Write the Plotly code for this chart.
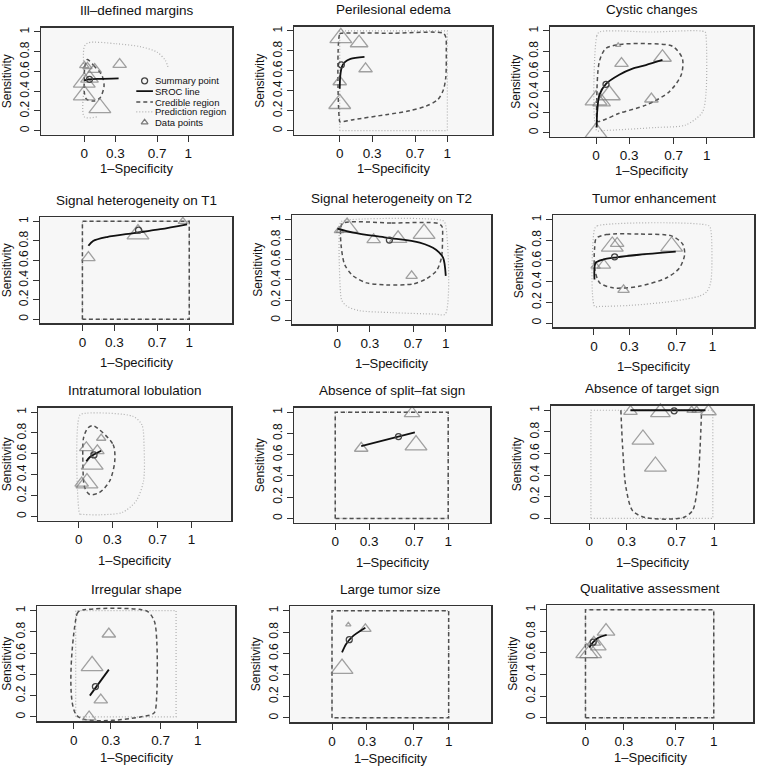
import plotly.graph_objects as go

# ---------------- DATA ----------------
titles = ["Ill–defined margins", "Perilesional edema", "Cystic changes",
          "Signal heterogeneity on T1", "Signal heterogeneity on T2", "Tumor enhancement",
          "Intratumoral lobulation", "Absence of split–fat sign", "Absence of target sign",
          "Irregular shape", "Large tumor size", "Qualitative assessment"]

x_tick_vals = [0, 0.3, 0.7, 1]
x_tick_text = ["0", "0.3", "0.7", "1"]
y_tick_vals = [0, 0.2, 0.4, 0.6, 0.8, 1]
y_tick_text = ["0", "0.2", "0.4", "0.6", "0.8", "1"]

# study data points (1-specificity, sensitivity, relative weight)
pts_x = [
    [0.0, 0.03, 0.10, 0.34, 0.0, 0.05, 0.0, 0.15],
    [0.01, 0.18, 0.24, 0.0, 0.0],
    [0.2, 0.23, 0.6, 0.5, 0.0, 0.12, 0.05, 0.0],
    [0.056, 0.52, 0.94],
    [0.09, 0.015, 0.335, 0.56, 0.8, 0.685],
    [0.155, 0.196, 0.655, 0.084, 0.014, 0.25],
    [0.2, 0.068, 0.166, 0.12, 0.027, 0.074],
    [0.23, 0.68, 0.715],
    [0.33, 0.57, 0.82, 0.86, 0.955, 0.43, 0.53],
    [0.283, 0.148, 0.218, 0.124],
    [0.14, 0.286, 0.086],
    [0.16, 0.065, 0.1, 0.01, 0.04],
]
pts_y = [
    [0.66, 0.65, 0.62, 0.67, 0.49, 0.53, 0.36, 0.23],
    [0.93, 0.88, 0.62, 0.49, 0.27],
    [0.86, 0.68, 0.74, 0.33, 0.32, 0.37, 0.30, 0.0],
    [0.63, 0.87, 1.0],
    [0.92, 0.89, 0.80, 0.81, 0.86, 0.44],
    [0.74, 0.77, 0.74, 0.56, 0.55, 0.32],
    [0.75, 0.66, 0.63, 0.50, 0.32, 0.32],
    [0.66, 0.99, 0.69],
    [0.99, 0.98, 1.0, 1.0, 0.99, 0.73, 0.48],
    [0.78, 0.48, 0.16, 0.0],
    [0.87, 0.83, 0.46],
    [0.80, 0.70, 0.66, 0.60, 0.60],
]
pts_w = [
    [2, 2, 3, 3, 5, 4, 5, 5],
    [5, 4, 3, 3, 5],
    [1, 3, 4, 3, 5, 5, 4, 5],
    [3, 5, 2],
    [5, 2, 3, 4, 5, 2.5],
    [5, 3, 5, 3, 2, 2.5],
    [2, 3, 3, 5, 3, 5],
    [3, 3.5, 5],
    [3, 4.5, 2, 2, 3.5, 5, 5],
    [3, 5, 3, 3],
    [1, 2.5, 5],
    [4, 3, 3.5, 5, 5],
]

# summary points
summ_x = [0.05, 0.015, 0.09, 0.525, 0.48, 0.175, 0.136, 0.56, 0.68, 0.175, 0.148, 0.06]
summ_y = [0.52, 0.66, 0.475, 0.91, 0.795, 0.64, 0.59, 0.77, 0.995, 0.285, 0.73, 0.70]

# SROC lines
sroc_x = [
    [0.0, 0.05, 0.15, 0.33],
    [0.0, 0.005, 0.02, 0.05, 0.1, 0.23],
    [0.006, 0.01, 0.03, 0.09, 0.21, 0.33, 0.45, 0.6],
    [0.056, 0.10, 0.23, 0.48, 0.73, 0.98],
    [0.0, 0.145, 0.45, 0.76, 0.91, 0.975, 1.0],
    [0.005, 0.014, 0.076, 0.19, 0.38, 0.69],
    [0.068, 0.1, 0.2],
    [0.23, 0.705],
    [0.33, 0.93],
    [0.13, 0.283],
    [0.086, 0.12, 0.177, 0.286],
    [0.03, 0.06, 0.1, 0.165],
]
sroc_y = [
    [0.51, 0.52, 0.525, 0.53],
    [0.42, 0.55, 0.64, 0.69, 0.72, 0.74],
    [0.05, 0.2, 0.37, 0.48, 0.57, 0.63, 0.665, 0.715],
    [0.75, 0.80, 0.84, 0.88, 0.92, 0.97],
    [0.91, 0.87, 0.82, 0.77, 0.70, 0.62, 0.44],
    [0.42, 0.58, 0.613, 0.635, 0.66, 0.69],
    [0.53, 0.57, 0.63],
    [0.68, 0.81],
    [1.0, 1.0],
    [0.2, 0.445],
    [0.61, 0.686, 0.76, 0.84],
    [0.65, 0.70, 0.74, 0.767],
]

# credible regions
cred_x = [
    [0.03, 0.09, 0.17, 0.19, 0.15, 0.09, 0.02, 0.0, 0.0, 0.005, 0.03],
    [0.0, 0.0, 0.02, 0.5, 0.96, 0.985, 0.99, 0.985, 0.96, 0.91, 0.8, 0.65, 0.43, 0.124, 0.006, 0.0],
    [0.015, 0.006, 0.03, 0.09, 0.24, 0.48, 0.69, 0.78, 0.77, 0.66, 0.45, 0.21, 0.06, 0.015],
    [0, 0, 1, 1, 0],
    [0.046, 0.5, 0.93, 0.965, 0.97, 0.96, 0.914, 0.82, 0.70, 0.45, 0.27, 0.145, 0.068, 0.037, 0.03, 0.046],
    [0.02, 0.104, 0.38, 0.66, 0.75, 0.765, 0.72, 0.61, 0.38, 0.16, 0.048, 0.006, 0.006, 0.02],
    [0.128, 0.305, 0.32, 0.275, 0.186, 0.098, 0.053, 0.038, 0.044, 0.083, 0.128],
    [0, 0, 1, 1, 0],
    [0.253, 0.267, 0.293, 0.347, 0.45, 0.75, 0.827, 0.867, 0.888, 0.9],
    [0.027, 0.027, 0.05, 0.59, 0.65, 0.67, 0.67, 0.65, 0.59, 0.027],
    [0, 0, 1, 1, 0],
    [0, 0, 1, 1, 0],
]
cred_y = [
    [0.72, 0.66, 0.56, 0.45, 0.33, 0.30, 0.32, 0.39, 0.5, 0.65, 0.72],
    [0.09, 0.97, 0.977, 0.977, 0.977, 0.94, 0.8, 0.53, 0.40, 0.31, 0.245, 0.2, 0.16, 0.11, 0.087, 0.09],
    [0.11, 0.3, 0.70, 0.83, 0.87, 0.875, 0.85, 0.73, 0.57, 0.40, 0.27, 0.19, 0.12, 0.11],
    [0, 1, 1, 0, 0],
    [0.96, 0.965, 0.96, 0.93, 0.8, 0.62, 0.49, 0.41, 0.36, 0.35, 0.37, 0.44, 0.55, 0.72, 0.885, 0.96],
    [0.82, 0.855, 0.86, 0.84, 0.76, 0.66, 0.53, 0.435, 0.355, 0.34, 0.39, 0.53, 0.725, 0.82],
    [0.87, 0.69, 0.53, 0.34, 0.23, 0.21, 0.28, 0.5, 0.755, 0.85, 0.87],
    [0, 1, 1, 0, 0],
    [1.0, 0.66, 0.29, 0.07, 0.006, 0.006, 0.07, 0.29, 0.66, 1.0],
    [0.01, 0.97, 1.0, 0.995, 0.9, 0.7, 0.23, 0.04, 0.01, 0.01],
    [0, 1, 1, 0, 0],
    [0, 1, 1, 0, 0],
]

# prediction regions
pred_x = [
    [0.12, 0.0, 0.0, 0.0, 0.04, 0.31, 0.54, 0.7, 0.78, 0.81],
    [0, 0, 1, 1, 0],
    [0.006, 0.006, 0.03, 0.5, 0.985, 0.994, 0.994, 0.96, 0.81, 0.54, 0.06, 0.006],
    [0, 0, 1, 1, 0],
    [0.03, 0.06, 0.97, 0.995, 0.995, 0.9, 0.5, 0.2, 0.083, 0.04, 0.028, 0.03],
    [0.006, 0.03, 0.97, 0.986, 0.986, 0.95, 0.888, 0.664, 0.3, 0.05, 0.006, 0.006],
    [0.02, 0.01, 0.01, 0.07, 0.48, 0.56, 0.58, 0.575, 0.51, 0.39, 0.19, 0.02],
    [0, 0, 1, 1, 0],
    [0.013, 0.013, 0.99, 0.99, 0.013],
    [0.016, 0.016, 0.825, 0.825, 0.016],
    [0, 0, 1, 1, 0],
    [0, 0, 1, 1, 0],
]
pred_y = [
    [0.14, 0.14, 0.5, 0.85, 0.89, 0.88, 0.85, 0.795, 0.71, 0.625],
    [0, 1, 1, 0, 0],
    [0.02, 0.95, 0.99, 0.99, 0.99, 0.95, 0.4, 0.2, 0.075, 0.05, 0.02, 0.02],
    [0, 1, 1, 0, 0],
    [0.97, 0.99, 0.99, 0.96, 0.06, 0.06, 0.075, 0.095, 0.142, 0.2, 0.29, 0.97],
    [0.91, 0.94, 0.94, 0.9, 0.40, 0.30, 0.26, 0.21, 0.17, 0.16, 0.16, 0.91],
    [0.02, 0.02, 0.97, 0.99, 0.96, 0.88, 0.66, 0.34, 0.15, 0.04, 0.016, 0.02],
    [0, 1, 1, 0, 0],
    [0.0, 1.0, 1.0, 0.0, 0.0],
    [0.0, 1.0, 1.0, 0.0, 0.0],
    [0, 1, 1, 0, 0],
    [0, 1, 1, 0, 0],
]

legend_labels = ["Summary point", "SROC line", "Credible region", "Prediction region", "Data points"]

# ---------------- LAYOUT GEOMETRY (pixels) ----------------
W, H = 760, 767
# plot boxes: left, right, top, bottom
boxes = [
    (41, 232, 26, 133), (294, 492, 25, 133), (550, 753, 25, 135),
    (40, 232, 216, 322), (292, 491, 214, 323), (553, 754, 214, 326),
    (38, 231, 407, 520), (294, 490, 407, 522), (551, 753, 405, 522),
    (37, 235, 606, 721), (290, 491, 606, 722), (547, 753, 605, 722),
]
xranges = [
    (-0.416, 1.42), (-0.425, 1.415), (-0.416, 1.418),
    (-0.397, 1.40), (-0.418, 1.417), (-0.345, 1.35),
    (-0.36, 1.35), (-0.365, 1.37), (-0.307, 1.312),
    (-0.296, 1.30), (-0.36, 1.363), (-0.30, 1.306),
]
yrange = (-0.04, 1.04)
xtitle_off = [34, 34, 34, 39, 39, 39, 40, 40, 40, 36, 36, 35]

FONT = "Liberation Sans, Arial, Helvetica, sans-serif"
C_PTS = "#7a7a7a"
C_CRED = "#505050"
C_PRED = "#b0b0b0"
C_SROC = "#111111"
C_SUMM = "#444444"

fig = go.Figure()
annotations = []


def tri_size(w):
    return 3.6 * w + 1


for i in range(12):
    xa = "x" if i == 0 else f"x{i+1}"
    ya = "y" if i == 0 else f"y{i+1}"
    common = dict(xaxis=xa, yaxis=ya, showlegend=False, hoverinfo="skip")
    pred_shape = "linear" if len(pred_x[i]) == 5 else "spline"
    cred_shape = "linear" if len(cred_x[i]) == 5 else "spline"
    fig.add_trace(go.Scatter(x=pred_x[i], y=pred_y[i], mode="lines",
                             line=dict(color=C_PRED, width=1.2, dash="1px,2px", shape=pred_shape, smoothing=0.8),
                             **common))
    fig.add_trace(go.Scatter(x=cred_x[i], y=cred_y[i], mode="lines",
                             line=dict(color=C_CRED, width=1.5, dash="4px,3px", shape=cred_shape, smoothing=0.8),
                             **common))
    fig.add_trace(go.Scatter(x=pts_x[i], y=pts_y[i], mode="markers",
                             marker=dict(symbol="triangle-up-open", size=[tri_size(w) for w in pts_w[i]],
                                         color=C_PTS, line=dict(width=1.3, color=C_PTS)),
                             cliponaxis=False, **common))
    fig.add_trace(go.Scatter(x=sroc_x[i], y=sroc_y[i], mode="lines",
                             line=dict(color=C_SROC, width=1.8, shape="spline", smoothing=0.8),
                             **common))
    fig.add_trace(go.Scatter(x=[summ_x[i]], y=[summ_y[i]], mode="markers",
                             marker=dict(symbol="circle-open", size=6, color=C_SUMM,
                                         line=dict(width=1.3, color=C_SUMM)),
                             **common))

    l, r, t, b = boxes[i]
    axis_common = dict(ticks="outside", ticklen=6, tickwidth=1, tickcolor="#333",
                       showline=True, linecolor="#333", linewidth=1.5, mirror=True,
                       showgrid=False, zeroline=False, fixedrange=True)
    fig.layout["xaxis" if i == 0 else f"xaxis{i+1}"] = dict(
        domain=[l / W, r / W], range=list(xranges[i]), anchor=ya,
        tickvals=x_tick_vals, ticktext=x_tick_text,
        tickfont=dict(size=13.5, color="#111", family=FONT), **axis_common)
    fig.layout["yaxis" if i == 0 else f"yaxis{i+1}"] = dict(
        domain=[1 - b / H, 1 - t / H], range=list(yrange), anchor=xa,
        tickvals=y_tick_vals, ticktext=y_tick_text, tickangle=-90,
        tickfont=dict(size=12, color="#111", family=FONT), **axis_common)

    cx = (l + r) / 2 / W
    annotations.append(dict(text=titles[i], x=cx, y=1 - (t - 17) / H, xref="paper", yref="paper",
                            xanchor="center", yanchor="middle", showarrow=False,
                            font=dict(size=13.5, color="#111", family=FONT)))
    annotations.append(dict(text="1–Specificity", x=cx, y=1 - (b + xtitle_off[i]) / H,
                            xref="paper", yref="paper", xanchor="center", yanchor="middle",
                            showarrow=False, font=dict(size=13, color="#111", family=FONT)))
    annotations.append(dict(text="Sensitivity", x=max(l - 34, 7) / W, y=1 - (t + b) / 2 / H,
                            xref="paper", yref="paper", xanchor="center", yanchor="middle",
                            textangle=-90, showarrow=False,
                            font=dict(size=12, color="#111", family=FONT)))

# ---- legend inside first panel ----
leg_y = [0.505, 0.40, 0.29, 0.19, 0.085]
leg_key_x = 0.58
leg_line_x = [0.5, 0.66]
leg_text_x = 0.665
fig.add_trace(go.Scatter(x=[leg_key_x], y=[leg_y[0]], mode="markers",
                         marker=dict(symbol="circle-open", size=6, color=C_SUMM, line=dict(width=1.3, color=C_SUMM)),
                         xaxis="x", yaxis="y", showlegend=False, hoverinfo="skip"))
for yy, col, dash, wd in [(leg_y[1], C_SROC, "solid", 1.8), (leg_y[2], C_CRED, "4px,3px", 1.5),
                          (leg_y[3], C_PRED, "1px,2px", 1.2)]:
    fig.add_trace(go.Scatter(x=leg_line_x, y=[yy, yy], mode="lines",
                             line=dict(color=col, width=wd, dash=dash),
                             xaxis="x", yaxis="y", showlegend=False, hoverinfo="skip"))
fig.add_trace(go.Scatter(x=[leg_key_x], y=[leg_y[4]], mode="markers",
                         marker=dict(symbol="triangle-up-open", size=6, color=C_PTS, line=dict(width=1.2, color=C_PTS)),
                         xaxis="x", yaxis="y", showlegend=False, hoverinfo="skip"))
for lab, yy in zip(legend_labels, leg_y):
    annotations.append(dict(text=lab, x=leg_text_x, y=yy, xref="x", yref="y", xanchor="left",
                            yanchor="middle", showarrow=False,
                            font=dict(size=9.5, color="#111", family=FONT)))

fig.update_layout(width=W, height=H, margin=dict(l=0, r=0, t=0, b=0),
                  paper_bgcolor="white", plot_bgcolor="#f7f7f7",
                  font=dict(family=FONT, color="#111"),
                  annotations=annotations, showlegend=False)

fig.write_html("out.html", config={"displayModeBar": False, "staticPlot": True},
               post_script="document.body.style.margin='0px';document.body.style.overflow='hidden';")
